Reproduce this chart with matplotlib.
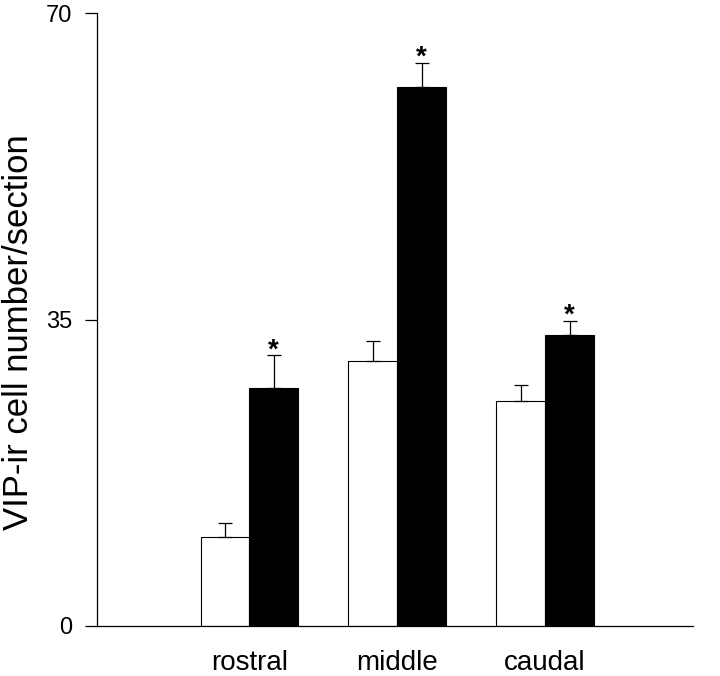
import matplotlib.pyplot as plt
import numpy as np

plt.rcParams['font.family'] = ['Liberation Sans', 'DejaVu Sans']

regions = ['rostral', 'middle', 'caudal']
white_vals = [10.2, 30.3, 25.7]
white_err = [1.6, 2.2, 1.8]
black_vals = [27.2, 61.5, 33.2]
black_err = [3.7, 2.8, 1.6]
y_ticks = [0, 35, 70]

x = np.arange(1, len(regions) + 1)
w = 0.33

fig = plt.figure(figsize=(7.2, 6.76), dpi=100)
ax = fig.add_axes([97 / 720, 50 / 676, 596 / 720, 613 / 676])

ax.bar(x - w / 2, white_vals, w, color='white', edgecolor='black', linewidth=0.8)
ax.bar(x + w / 2, black_vals, w, color='black', edgecolor='black', linewidth=0.8)

zeros = [0] * len(regions)
ax.errorbar(x - w / 2, white_vals, yerr=[zeros, white_err], fmt='none',
            ecolor='black', elinewidth=0.9, capsize=4.7, capthick=0.9)
ax.errorbar(x + w / 2, black_vals, yerr=[zeros, black_err], fmt='none',
            ecolor='black', elinewidth=0.9, capsize=4.7, capthick=0.9)

# significance stars over the black bars
for xi, v, e in zip(x, black_vals, black_err):
    ax.text(xi + w / 2, v + e - 0.2, '*', ha='center', va='baseline',
            fontsize=20, fontweight='bold')

ax.set_xlim(-0.03, 4.0)
ax.set_ylim(0, 70)
ax.set_yticks(y_ticks)
ax.set_xticks(x)
ax.set_xticklabels(regions, fontsize=20)
ax.tick_params(axis='x', length=0, pad=17)
ax.tick_params(axis='y', length=8.6, width=0.9, labelsize=17, pad=9)

for s in ['top', 'right']:
    ax.spines[s].set_visible(False)
for s in ['left', 'bottom']:
    ax.spines[s].set_linewidth(0.9)

fig.text(19 / 720, 1 - 332 / 676, 'VIP-ir cell number/section', rotation=90,
         ha='center', va='center', fontsize=25)

plt.savefig('out.png', dpi=100)
